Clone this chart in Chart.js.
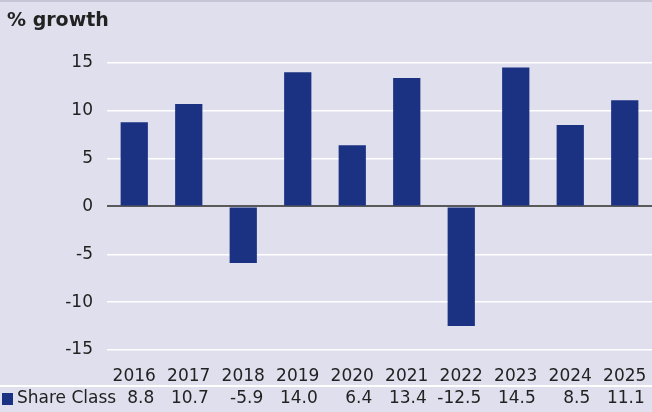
<!DOCTYPE html>
<html>
<head>
<meta charset="utf-8">
<script src="https://cdn.jsdelivr.net/npm/chart.js@4/dist/chart.umd.min.js"></script>
<style>
  html, body { margin: 0; padding: 0; background: #e0dfee; }
  #wrap { width: 652px; height: 412px; }
</style>
</head>
<body>
<div id="wrap"><canvas id="growthChart" width="652" height="412"></canvas></div>
<script>
// % growth by year for the share class
const years = ['2016', '2017', '2018', '2019', '2020', '2021', '2022', '2023', '2024', '2025'];
const growth = [8.8, 10.7, -5.9, 14.0, 6.4, 13.4, -12.5, 14.5, 8.5, 11.1];
const yTicks = [-15, -10, -5, 0, 5, 10, 15];
const seriesName = 'Share Class';

const BAR = '#1b3283';
const BG = '#e0dfee';
const TEXT = '#222222';
const FONT = '"DejaVu Sans", Verdana, sans-serif';

// background, top rule, table row under the axis
const tablePlugin = {
    id: 'tableRow',
    beforeDraw(chart) {
        const ctx = chart.ctx;
        ctx.save();
        ctx.fillStyle = BG;
        ctx.fillRect(0, 0, chart.width, chart.height);
        ctx.fillStyle = '#c6c5d6';
        ctx.fillRect(0, 0, chart.width, 2);
        ctx.restore();
    },
    afterDraw(chart) {
        const ctx = chart.ctx;
        const xs = chart.scales.x;
        const rowY = 399;
        ctx.save();
        // separator between years and values
        ctx.fillStyle = '#ffffff';
        ctx.fillRect(0, 385, chart.width, 2);
        // legend marker + name
        ctx.fillStyle = BAR;
        ctx.fillRect(2, 393, 11, 12);
        ctx.fillStyle = TEXT;
        ctx.font = '17px ' + FONT;
        ctx.textBaseline = 'middle';
        ctx.textAlign = 'left';
        ctx.fillText(seriesName, 17, rowY);
        // values, right aligned under each year
        ctx.textAlign = 'right';
        growth.forEach(function (v, i) {
            const cx = xs.getPixelForValue(i);
            ctx.fillText(v.toFixed(1), cx + 20, rowY);
        });
        ctx.restore();
    }
};

new Chart(document.getElementById('growthChart'), {
    type: 'bar',
    data: {
        labels: years,
        datasets: [{
            label: seriesName,
            data: growth,
            backgroundColor: BAR,
            borderWidth: 0,
            categoryPercentage: 1.0,
            barPercentage: 0.5
        }]
    },
    options: {
        responsive: false,
        animation: false,
        layout: { padding: { left: 7, right: 0, top: 0, bottom: 0 } },
        plugins: {
            legend: { display: false },
            tooltip: { enabled: false },
            title: {
                display: true,
                text: '% growth',
                align: 'start',
                color: TEXT,
                font: { family: FONT, size: 19, weight: 'bold' },
                padding: { top: 10, bottom: 30 }
            }
        },
        scales: {
            x: {
                grid: { display: false, drawTicks: false },
                border: { display: false },
                ticks: {
                    color: TEXT,
                    font: { family: FONT, size: 17 },
                    padding: 16,
                    maxRotation: 0,
                    autoSkip: false
                },
                afterFit(scale) {
                    scale.height = 62;
                    scale.paddingLeft = 0;
                    scale.paddingRight = 0;
                }
            },
            y: {
                min: -15,
                max: 15,
                afterBuildTicks(scale) {
                    scale.ticks = yTicks.map(function (v) { return { value: v }; });
                },
                grid: {
                    drawTicks: false,
                    color: function (c) { return c.tick && c.tick.value === 0 ? '#5a5a5a' : '#ffffff'; },
                    lineWidth: function (c) { return c.tick && c.tick.value === 0 ? 2 : 1.5; }
                },
                border: { display: false },
                ticks: {
                    color: TEXT,
                    font: { family: FONT, size: 17 },
                    padding: 14
                },
                afterFit(scale) { scale.width = 100; }
            }
        }
    },
    plugins: [tablePlugin]
});
</script>
</body>
</html>
